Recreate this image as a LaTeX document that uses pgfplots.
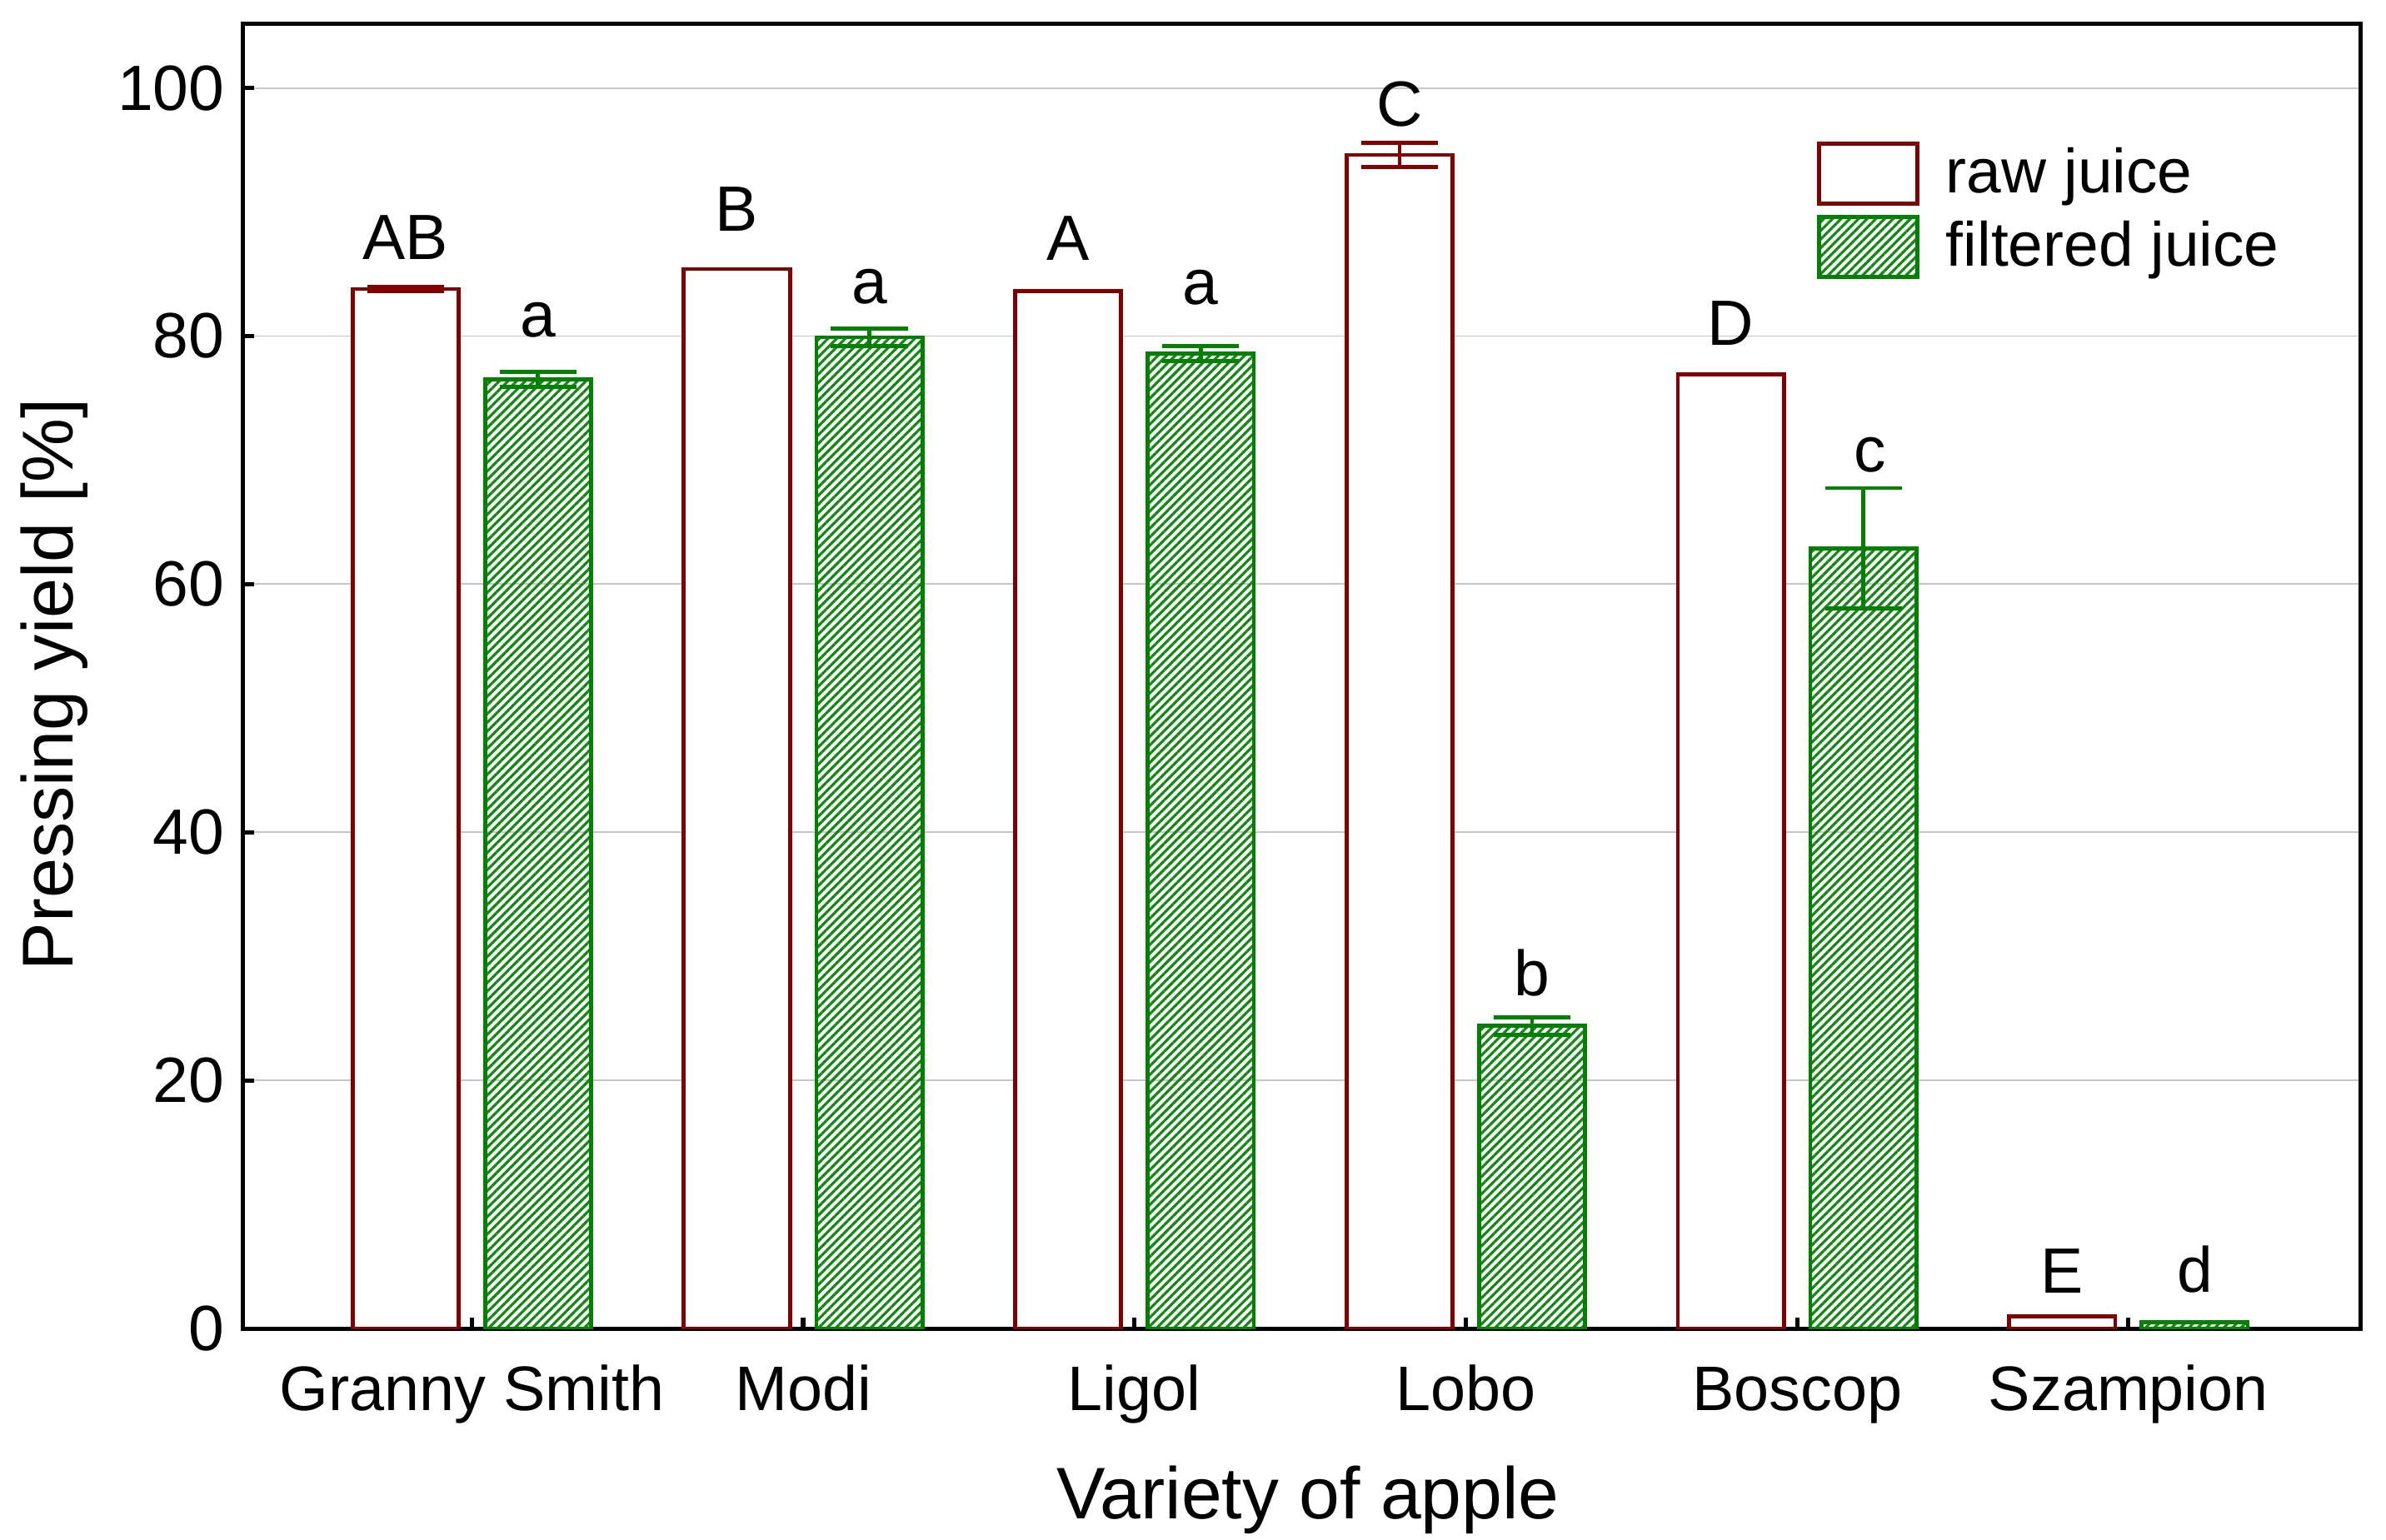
\documentclass[border=0pt]{standalone}
\usepackage{fontspec}
\setmainfont{Liberation Sans}
\usepackage{pgfplots}
\pgfplotsset{compat=1.18}
\usetikzlibrary{patterns.meta}
\definecolor{rawc}{RGB}{128,0,0}
\definecolor{filc}{RGB}{0,128,0}
\definecolor{patc}{RGB}{20,135,20}
\pgfplotstableread{
x y
0 83.8
1 85.4
2 83.6
3 94.6
4 76.9
5 1.0
}\rawdata
\pgfplotstableread{
x y
0 76.5
1 79.9
2 78.6
3 24.4
4 62.9
5 0.5
}\fildata
\pgfplotstableread{
x y err
-0.2 83.8 0.15
2.8 94.6 0.95
}\rawerr
\pgfplotstableread{
x y err
0.2 76.5 0.6
1.2 79.9 0.7
2.2 78.6 0.6
3.2 24.4 0.7
4.2 62.9 4.85
}\filerr
\pgfplotstableread{
x y lab
-0.2 86.1 AB
0.2 79.8 a
0.8 88.4 B
1.2 82.5 a
1.8 86.0 A
2.2 82.4 a
2.8 96.8 C
3.2 26.7 b
3.8 79.2 D
4.22 68.9 c
4.8 2.8 E
5.2 2.8 d
}\labdata
\begin{document}
\begin{tikzpicture}
\useasboundingbox (-45.6pt,-39.5pt) rectangle (401.8pt,249.2pt);
\begin{axis}[
  scale only axis, width=397pt, height=244.8pt,
  xmin=-0.69, xmax=5.70, ymin=0, ymax=105.2,
  axis line style={line width=0.8pt},
  xtick={0,1,2,3,4,5},
  xticklabels={Granny Smith,Modi,Ligol,Lobo,Boscop,Szampion},
  ytick={0,20,40,60,80,100},
  tick align=inside, major tick length=2pt,
  tick style={black, line width=0.8pt},
  xtick pos=bottom, ytick pos=left,
  ymajorgrids, grid style={line width=0.3pt, color=black!22},
  /pgf/number format/assume math mode=true,
  yticklabel style={font=\fontsize{12}{14}\selectfont},
  xticklabel style={font=\fontsize{11.8}{14}\selectfont, anchor=base, yshift=-15.3pt},
  xlabel={Variety of apple},
  ylabel={Pressing yield [\%]},
  every axis x label/.style={at={(rel axis cs:0.503,0)}, yshift=-35.6pt, anchor=base, font=\fontsize{13.7}{16}\selectfont},
  every axis y label/.style={at={(rel axis cs:0,0.4935)}, xshift=-31.9pt, rotate=90, anchor=base, font=\fontsize{13.5}{16}\selectfont},
  legend image code/.code={\draw[#1, line width=0.75pt] (0pt,-5.6pt) rectangle (18.4pt,5.6pt);},
  legend style={at={(rel axis cs:0.743,0.91)}, anchor=north west, draw=none, fill=none,
    inner sep=0pt, row sep=1.8pt, font=\fontsize{11.7}{14}\selectfont,
    nodes={inner sep=0pt},
    /tikz/every odd column/.append style={column sep=5pt}},
  legend cell align=left,
]
\addplot[ybar, bar width=0.32, bar shift=-0.2, draw=rawc, fill=white, line width=0.75pt]
  table[x=x, y=y] {\rawdata};
\addlegendentry{raw juice}
\addplot[ybar, bar width=0.32, bar shift=0.2, draw=filc, line width=0.75pt,
  pattern={Lines[angle=45, distance=1.15pt, line width=0.5pt]}, pattern color=patc]
  table[x=x, y=y] {\fildata};
\addlegendentry{filtered juice}
\addplot[draw=none, no markers, forget plot,
  error bars/.cd, y dir=both, y explicit,
  error bar style={draw=rawc, line width=0.75pt},
  error mark options={draw=rawc, line width=0.75pt, mark size=7.2pt, rotate=90}]
  table[x=x, y=y, y error=err] {\rawerr};
\addplot[draw=none, no markers, forget plot,
  error bars/.cd, y dir=both, y explicit,
  error bar style={draw=filc, line width=0.75pt},
  error mark options={draw=filc, line width=0.75pt, mark size=7.2pt, rotate=90}]
  table[x=x, y=y, y error=err] {\filerr};
\addplot[draw=none, no markers, forget plot, nodes near coords, point meta=explicit symbolic,
  every node near coord/.style={anchor=south, inner sep=0pt, text=black, font=\fontsize{12}{14}\selectfont}]
  table[x=x, y=y, meta=lab] {\labdata};
\end{axis}
\end{tikzpicture}
\end{document}
